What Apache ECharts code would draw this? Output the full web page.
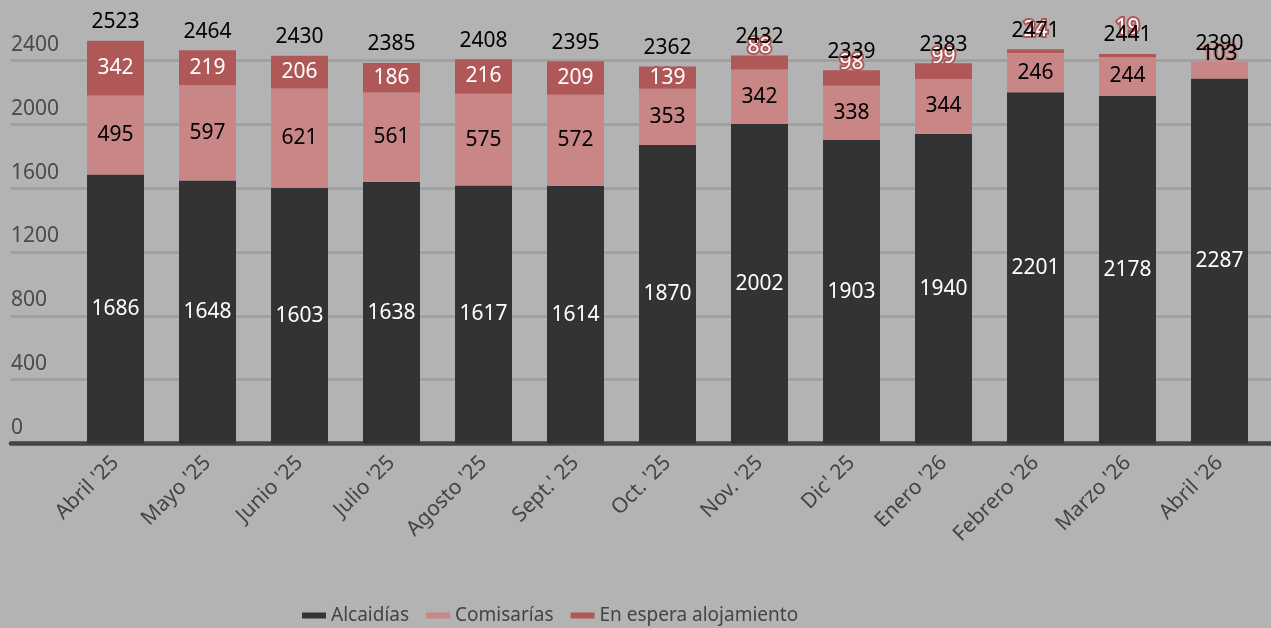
<!DOCTYPE html>
<html>
<head>
<meta charset="utf-8">
<script src="https://cdn.jsdelivr.net/npm/echarts@6/dist/echarts.min.js"></script>
<style>
  html, body { margin: 0; padding: 0; background: #b3b3b3; }
  #chart { width: 1271px; height: 628px; }
</style>
</head>
<body>
<div id="chart"></div>
<script>
// meses
var months = ["Abril '25", "Mayo '25", "Junio '25", "Julio '25", "Agosto '25", "Sept.' 25",
  "Oct. '25", "Nov. '25", "Dic' 25", "Enero '26", "Febrero '26", "Marzo '26", "Abril '26"]
var alcaidias = [1686, 1648, 1603, 1638, 1617, 1614, 1870, 2002, 1903, 1940, 2201, 2178, 2287]
var comisarias = [495, 597, 621, 561, 575, 572, 353, 342, 338, 344, 246, 244, 103]
var enEspera = [342, 219, 206, 186, 216, 209, 139, 88, 98, 99, 24, 19, 0]
var yTicks = [0, 400, 800, 1200, 1600, 2000, 2400]

var totals = months.map(function (m, i) { return alcaidias[i] + comisarias[i] + enEspera[i] })

var font = 'Noto Sans'
var colDark = '#333333'
var colPink = '#c98686'
var colRed = '#b05858'

// etiquetas que no caben dentro del segmento: se suben por encima
var liftEspera = { 7: -2, 8: -3, 9: -4, 10: 9, 11: 15 }
var liftComis = { 12: -2 }

function segData(values, lifts) {
    return values.map(function (v, i) {
        if (lifts[i] === undefined) return v
        return { value: v, label: { position: 'top', distance: lifts[i] } }
    })
}

var chart = echarts.init(document.getElementById('chart'))
var option = {
    backgroundColor: '#b3b3b3',
    textStyle: { fontFamily: font },
    grid: [
        { left: 69.5, right: 5.5, top: 60.5, bottom: 184.5 },
        { left: 11, right: 0, top: 60.5, bottom: 184.5 }
    ],
    legend: {
        data: ['Alcaidías', 'Comisarías', 'En espera alojamiento'],
        left: 297, bottom: -2,
        itemWidth: 24, itemHeight: 6, itemGap: 17,
        icon: 'rect',
        textStyle: { fontFamily: font, fontSize: 19, color: '#444' }
    },
    xAxis: [
        {
            type: 'category', data: months, gridIndex: 0,
            axisLine: { show: false }, axisTick: { show: false },
            axisLabel: { rotate: 45, margin: 16, fontSize: 21, color: '#444', fontFamily: font, interval: 0 }
        },
        {
            type: 'value', gridIndex: 1, min: 0, max: 1,
            axisLine: { show: true, onZero: false, lineStyle: { color: '#444', width: 4.5 } },
            axisTick: { show: false }, axisLabel: { show: false }, splitLine: { show: false }
        }
    ],
    yAxis: [
        {
            type: 'value', gridIndex: 0, min: yTicks[0], max: yTicks[yTicks.length - 1], interval: 400,
            axisLabel: { show: false }, splitLine: { show: false }, axisLine: { show: false }
        },
        {
            type: 'value', gridIndex: 1, min: yTicks[0], max: yTicks[yTicks.length - 1], interval: 400,
            axisLine: { show: false }, axisTick: { show: false },
            splitLine: { lineStyle: { color: '#9e9e9e', width: 2.5 } },
            axisLabel: {
                inside: true, margin: 0, align: 'left', verticalAlign: 'bottom',
                padding: [0, 0, 5, 0],
                fontSize: 21, color: '#4a4a4a', fontFamily: font,
                formatter: function (v) { return String(v) }
            }
        }
    ],
    series: [
        {
            name: 'Alcaidías', type: 'bar', stack: 'a', barWidth: 57, clip: false,
            data: alcaidias,
            itemStyle: { color: colDark },
            label: { show: true, position: 'inside', color: '#fff', fontSize: 21, fontFamily: font }
        },
        {
            name: 'Comisarías', type: 'bar', stack: 'a', clip: false,
            data: segData(comisarias, liftComis),
            itemStyle: { color: colPink },
            label: {
                show: true, position: 'inside', color: '#000', fontSize: 21, fontFamily: font,
                textBorderColor: colPink, textBorderWidth: 3
            }
        },
        {
            name: 'En espera alojamiento', type: 'bar', stack: 'a', clip: false,
            data: segData(enEspera, liftEspera),
            itemStyle: { color: colRed },
            label: {
                show: true, position: 'inside', color: '#fff', fontSize: 21, fontFamily: font,
                textBorderColor: colRed, textBorderWidth: 4,
                formatter: function (p) { return p.value ? p.value : '' }
            }
        },
        {
            name: 'Total', type: 'bar', stack: 'a', clip: false,
            data: totals.map(function () { return 0 }),
            itemStyle: { color: 'transparent' },
            label: {
                show: true, position: 'top', distance: 8, color: '#000', fontSize: 21, fontFamily: font,
                formatter: function (p) { return totals[p.dataIndex] }
            },
            z: 5
        }
    ]
}
chart.setOption(option)
</script>
</body>
</html>
